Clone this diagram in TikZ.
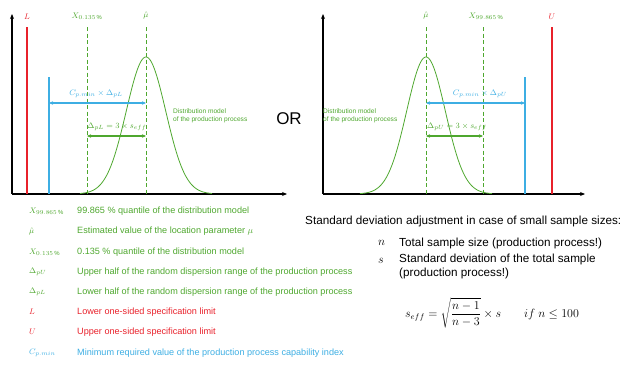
\documentclass[tikz,border=0pt]{standalone}
\usepackage{fontspec}
\setmainfont{Liberation Sans}
\usetikzlibrary{arrows.meta}
\definecolor{gr}{HTML}{4EA72E}
\definecolor{rd}{HTML}{E8212B}
\definecolor{bl}{HTML}{3DAEE3}
\tikzset{
  axis/.style={line width=1.3pt,-{Stealth[length=5pt,width=4pt]}},
  qline/.style={gr,line width=0.8pt,dash pattern=on 4pt off 2.5pt},
  limitline/.style={rd,line width=1.3pt},
  minline/.style={bl,line width=1.3pt},
  barrow/.style={bl,line width=1.2pt,{Stealth[length=4pt,width=3.5pt]}-{Stealth[length=4pt,width=3.5pt]}},
  garrow/.style={gr,line width=1.2pt,{Stealth[length=4pt,width=3.5pt]}-{Stealth[length=4pt,width=3.5pt]}},
  curve/.style={gr,line width=0.8pt},
  toplab/.style={font=\fontsize{8.4}{9}\selectfont,inner sep=1pt},
  distlab/.style={gr,font=\fontsize{6.6}{8}\selectfont,align=left,inner sep=0pt,anchor=west},
  legsym/.style={font=\fontsize{8.5}{9}\selectfont,anchor=west,inner sep=0pt},
  legtxt/.style={font=\fontsize{9.1}{10}\selectfont,anchor=west,inner sep=0pt},
  rtxt/.style={font=\fontsize{11.7}{13.5}\selectfont,anchor=west,inner sep=0pt,align=left},
}
\begin{document}
\begin{tikzpicture}[x=1pt,y=-1pt]
\useasboundingbox (0,0) rectangle (639,364);
% ---------- left panel ----------
\coordinate (lo) at (12,194);
\coordinate (ly) at (12,14);
\coordinate (lx) at (287,194);
\draw[axis] (lo) -- (ly);
\draw[axis] (lo) -- (lx);
\coordinate (Lt) at (27,27); \coordinate (Lb) at (27,194);
\draw[limitline] (Lt) -- (Lb);
\node[toplab,rd] (Llab) at (27,17) {$L$};
\coordinate (Bt) at (49,77); \coordinate (Bb) at (49,194);
\draw[minline] (Bt) -- (Bb);
\coordinate (Xlt) at (87,27); \coordinate (Xlb) at (87,194);
\draw[qline] (Xlt) -- (Xlb);
\node[toplab,gr] (Xllab) at (87,16) {$X_{0.135\,\%}$};
\coordinate (Mlt) at (146,27); \coordinate (Mlb) at (146,194);
\draw[qline] (Mlt) -- (Mlb);
\node[toplab,gr] (Mllab) at (146,15) {$\hat{\mu}$};
\draw[curve] plot[domain=80:212,samples=120] (\x,{194-137*exp(-((\x-146)*(\x-146))/(2*19.7*19.7))});
\coordinate (ba1) at (49,103); \coordinate (ba2) at (146,103);
\draw[barrow] (ba1) -- (ba2);
\node[toplab,bl] (balab) at (96,94) {$C_{p.min}\times\Delta_{pL}$};
\coordinate (ga1) at (87,136); \coordinate (ga2) at (146,136);
\draw[garrow] (ga1) -- (ga2);
\node[toplab,gr] (galab) at (117,127) {$\Delta_{pL}=3\times s_{eff}$};
\node[distlab] (dl) at (173,116) {Distribution model\\of the production process};
\node[font=\fontsize{17}{18}\selectfont,inner sep=0pt] (or) at (289,119) {OR};
% ---------- right panel ----------
\coordinate (ro) at (323,194);
\coordinate (ry) at (323,14);
\coordinate (rx) at (585,194);
\draw[axis] (ro) -- (ry);
\draw[axis] (ro) -- (rx);
\coordinate (Mrt) at (426,27); \coordinate (Mrb) at (426,194);
\draw[qline] (Mrt) -- (Mrb);
\node[toplab,gr] (Mrlab) at (426,15) {$\hat{\mu}$};
\coordinate (Xrt) at (483,27); \coordinate (Xrb) at (483,194);
\draw[qline] (Xrt) -- (Xrb);
\node[toplab,gr] (Xrlab) at (486,16) {$X_{99.865\,\%}$};
\coordinate (Brt) at (525,77); \coordinate (Brb) at (525,194);
\draw[minline] (Brt) -- (Brb);
\coordinate (Ut) at (552,27); \coordinate (Ub) at (552,194);
\draw[limitline] (Ut) -- (Ub);
\node[toplab,rd] (Ulab) at (552,17) {$U$};
\draw[curve] plot[domain=360:492,samples=120] (\x,{194-137*exp(-((\x-426)*(\x-426))/(2*19.3*19.3))});
\coordinate (rba1) at (426,103); \coordinate (rba2) at (525,103);
\draw[barrow] (rba1) -- (rba2);
\node[toplab,bl] (rbalab) at (480,94) {$C_{p.min}\times\Delta_{pU}$};
\coordinate (rga1) at (426,136); \coordinate (rga2) at (483,136);
\draw[garrow] (rga1) -- (rga2);
\node[toplab,gr] (rgalab) at (457,127) {$\Delta_{pU}=3\times s_{eff}$};
\node[distlab] (dr) at (323,116) {Distribution model\\of the production process};
% ---------- legend ----------
\node[legsym,gr] (s1) at (29,211) {$X_{99.865\,\%}$};
\node[legtxt,gr] (t1) at (77,211) {99.865 \% quantile of the distribution model};
\node[legsym,gr] (s2) at (29,231) {$\hat{\mu}$};
\node[legtxt,gr] (t2) at (77,231) {Estimated value of the location parameter $\mu$};
\node[legsym,gr] (s3) at (29,252) {$X_{0.135\,\%}$};
\node[legtxt,gr] (t3) at (77,252) {0.135 \% quantile of the distribution model};
\node[legsym,gr] (s4) at (29,272) {$\Delta_{pU}$};
\node[legtxt,gr] (t4) at (77,272) {Upper half of the random dispersion range of the production process};
\node[legsym,gr] (s5) at (29,292) {$\Delta_{pL}$};
\node[legtxt,gr] (t5) at (77,292) {Lower half of the random dispersion range of the production process};
\node[legsym,rd] (s6) at (29,312) {$L$};
\node[legtxt,rd] (t6) at (77,312) {Lower one-sided specification limit};
\node[legsym,rd] (s7) at (29,332) {$U$};
\node[legtxt,rd] (t7) at (77,332) {Upper one-sided specification limit};
\node[legsym,bl] (s8) at (29,353) {$C_{p.min}$};
\node[legtxt,bl] (t8) at (77,353) {Minimum required value of the production process capability index};
% ---------- right text ----------
\node[rtxt] (hd) at (305,221) {Standard deviation adjustment in case of small sample sizes:};
\node[rtxt] (nn) at (378,243) {$n$};
\node[rtxt] (nt) at (399,243) {Total sample size (production process!)};
\node[rtxt] (ss) at (378,261) {$s$};
\node[rtxt,anchor=north west] (st) at (399,254) {Standard deviation of the total sample\\(production process!)};
\node[font=\fontsize{11.5}{12}\selectfont,anchor=west,inner sep=0pt] (fm) at (405,313)
  {$\displaystyle s_{eff}=\sqrt{\frac{n-1}{n-3}}\times s\qquad if\ n\le 100$};
\end{tikzpicture}
\end{document}
